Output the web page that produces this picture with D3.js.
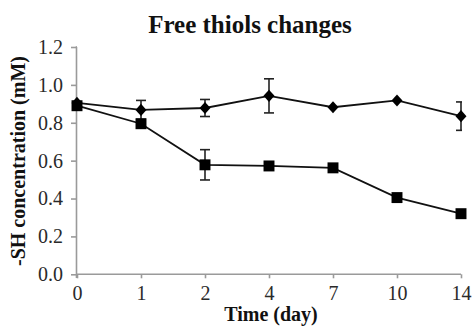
<!DOCTYPE html>
<html>
<head>
<meta charset="utf-8">
<script src="https://cdn.jsdelivr.net/npm/d3@7"></script>
<style>
  html, body { margin: 0; padding: 0; background: #fff; }
  svg { display: block; }
</style>
</head>
<body>
<svg id="chart" width="472" height="326"></svg>
<script>
const days = ["0", "1", "2", "4", "7", "10", "14"];
const diamondValues = [0.905, 0.868, 0.878, 0.942, 0.882, 0.918, 0.835];
const diamondErrors = [0.0, 0.05, 0.045, 0.09, 0.0, 0.0, 0.075];
const squareValues = [0.89, 0.795, 0.578, 0.572, 0.562, 0.405, 0.32];
const squareErrors = [0.0, 0.0, 0.08, 0.0, 0.0, 0.0, 0.0];
const yTicks = [0.0, 0.2, 0.4, 0.6, 0.8, 1.0, 1.2];
const titleText = "Free thiols changes";
const xLabel = "Time (day)";
const yLabel = "-SH concentration (mM)";

const svg = d3.select("#chart");
const font = "'Liberation Serif', 'Times New Roman', serif";
const axisColor = "#9a9a9a";

const x = d3.scalePoint().domain(days).range([77, 461]).padding(0);
const y = d3.scaleLinear().domain([0, 1.2]).range([274.3, 47]);

// axes
const yAxis = svg.append("g").attr("transform", "translate(77,0)")
  .call(d3.axisLeft(y).tickValues(yTicks).tickFormat(d3.format(".1f")).tickSize(6).tickPadding(8));
const xAxis = svg.append("g").attr("transform", "translate(0,274.3)")
  .call(d3.axisBottom(x).tickSize(4).tickPadding(8));
[yAxis, xAxis].forEach(g => {
  g.selectAll("path.domain").attr("stroke", axisColor).attr("stroke-width", 1.6);
  g.selectAll(".tick line").attr("stroke", axisColor).attr("stroke-width", 1.6);
  g.selectAll(".tick text").attr("font-family", font).attr("font-size", 20).attr("fill", "#2a2a2a");
});
xAxis.select("path.domain").attr("d", "M77,0H461");
yAxis.select("path.domain").attr("d", "M0,47H-0.5V278");

// clip for error bars at right edge
svg.append("clipPath").attr("id", "plotclip").append("rect")
  .attr("x", 0).attr("y", 0).attr("width", 462).attr("height", 326);

const diamondSymbol = {
  draw(ctx, size) {
    const h = Math.sqrt(size) / 2;
    ctx.moveTo(0, -h * 1.1);
    ctx.lineTo(h, 0);
    ctx.lineTo(0, h * 1.1);
    ctx.lineTo(-h, 0);
    ctx.closePath();
  }
};

function drawSeries(values, errors, symbolType, size) {
  const data = days.map((d, i) => ({ d, v: values[i], e: errors[i] }));
  const line = d3.line().x(p => x(p.d)).y(p => y(p.v));
  svg.append("path").datum(data).attr("d", line)
    .attr("fill", "none").attr("stroke", "#111").attr("stroke-width", 1.8);
  const eb = svg.append("g").attr("clip-path", "url(#plotclip)")
    .selectAll("g").data(data.filter(p => p.e > 0)).join("g");
  eb.append("line").attr("x1", p => x(p.d)).attr("x2", p => x(p.d))
    .attr("y1", p => y(p.v + p.e)).attr("y2", p => y(p.v - p.e))
    .attr("stroke", "#222").attr("stroke-width", 1.6);
  [1, -1].forEach(s => {
    eb.append("line").attr("x1", p => x(p.d) - 5).attr("x2", p => x(p.d) + 5)
      .attr("y1", p => y(p.v + s * p.e)).attr("y2", p => y(p.v + s * p.e))
      .attr("stroke", "#222").attr("stroke-width", 1.6);
  });
  svg.append("g").selectAll("path").data(data).join("path")
    .attr("transform", p => `translate(${x(p.d)},${y(p.v)})`)
    .attr("d", d3.symbol().type(symbolType).size(size))
    .attr("fill", "#000");
}

drawSeries(diamondValues, diamondErrors, diamondSymbol, 120);
drawSeries(squareValues, squareErrors, d3.symbolSquare, 120);

// title & labels
svg.append("text").attr("x", 250).attr("y", 33).attr("text-anchor", "middle")
  .attr("font-family", font).attr("font-weight", "bold").attr("font-size", 25)
  .attr("fill", "#111").text(titleText);
svg.append("text").attr("x", 271).attr("y", 321).attr("text-anchor", "middle")
  .attr("font-family", font).attr("font-weight", "bold").attr("font-size", 20)
  .attr("fill", "#111").text(xLabel);
svg.append("text").attr("transform", "translate(25,161) rotate(-90)").attr("text-anchor", "middle")
  .attr("font-family", font).attr("font-weight", "bold").attr("font-size", 20)
  .attr("fill", "#111").text(yLabel);
</script>
</body>
</html>
